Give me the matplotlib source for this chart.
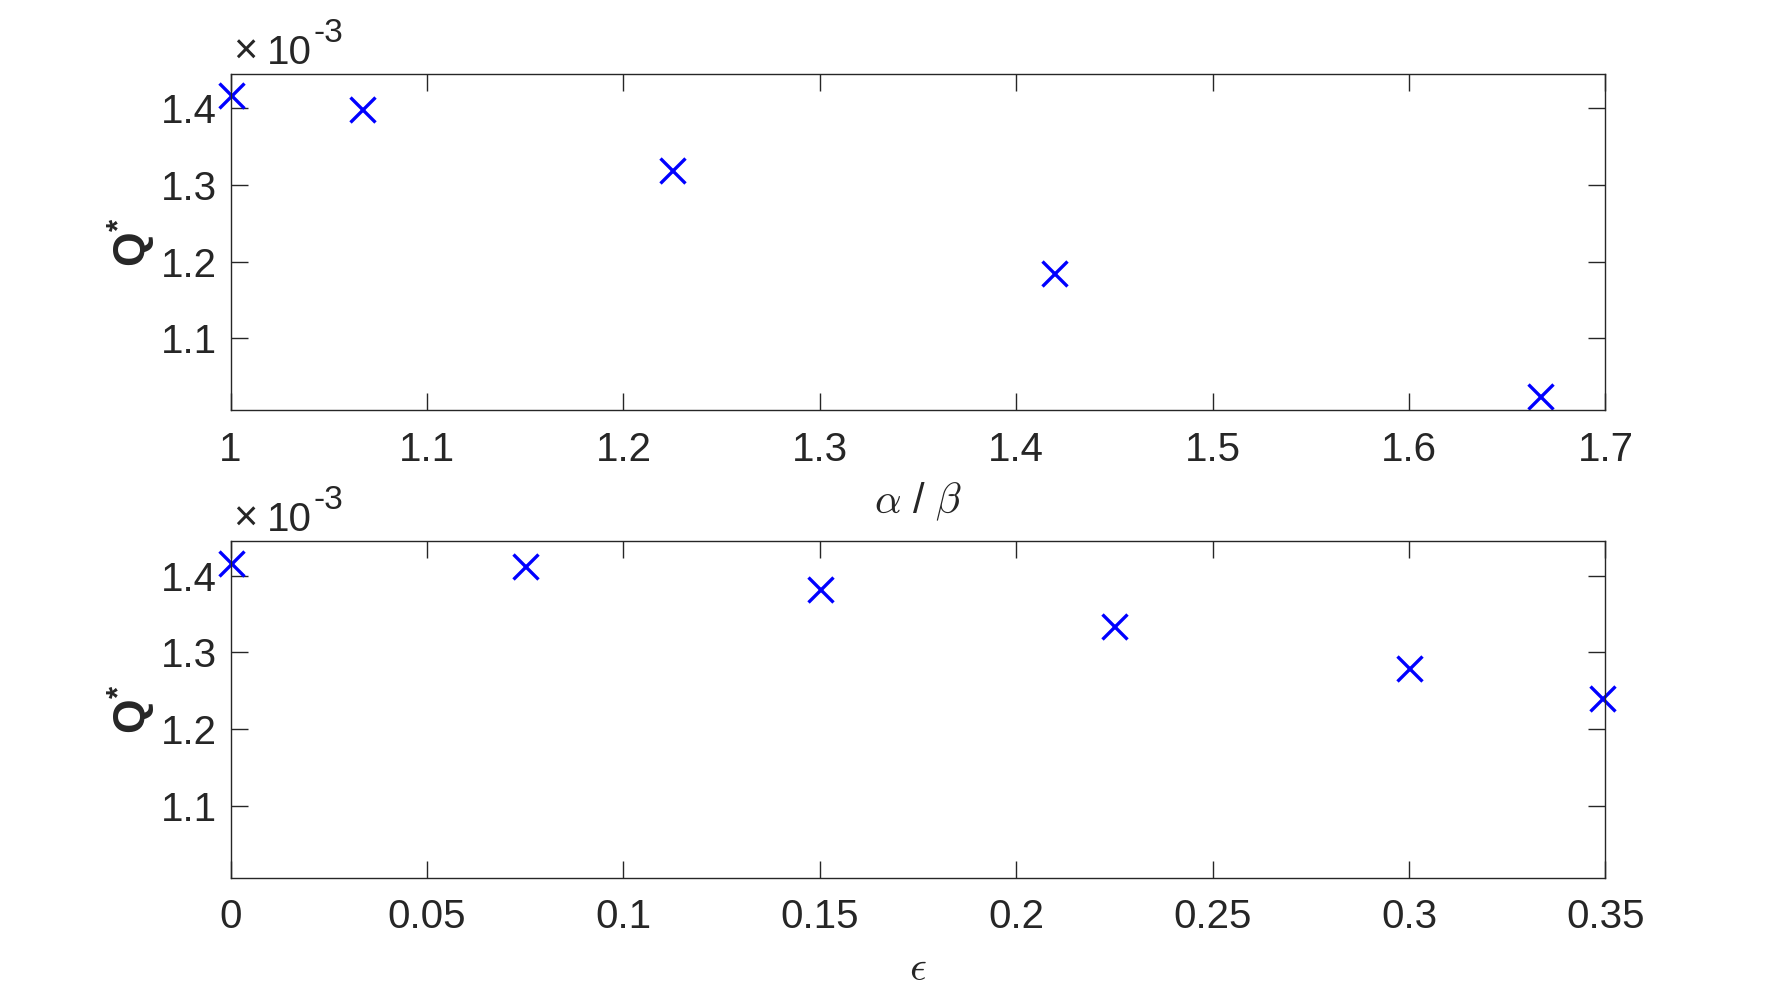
import matplotlib
matplotlib.use('agg')
import matplotlib.pyplot as plt
from matplotlib.ticker import FuncFormatter

# data
ratio = [1.0, 1.0667, 1.2245, 1.4194, 1.6667]
q_ratio = [1.417e-3, 1.399e-3, 1.320e-3, 1.185e-3, 1.025e-3]

eps = [0.0, 0.075, 0.15, 0.225, 0.3, 0.349]
q_eps = [1.416e-3, 1.412e-3, 1.382e-3, 1.334e-3, 1.279e-3, 1.240e-3]

ratio_ticks = [1, 1.1, 1.2, 1.3, 1.4, 1.5, 1.6, 1.7]
eps_ticks = [0, 0.05, 0.1, 0.15, 0.2, 0.25, 0.3, 0.35]
q_ticks = [1.1e-3, 1.2e-3, 1.3e-3, 1.4e-3]

plt.rcParams['font.family'] = ['Liberation Sans', 'DejaVu Sans']
plt.rcParams['mathtext.fontset'] = 'custom'
plt.rcParams['mathtext.rm'] = 'Liberation Sans'
plt.rcParams['mathtext.it'] = 'Liberation Sans:italic'
plt.rcParams['mathtext.bf'] = 'Liberation Sans:bold'

dark = '#262626'
fig = plt.figure(figsize=(17.74, 9.86), dpi=100)
ax1 = fig.add_axes([0.13, 0.5838, 0.775, 0.3412])
ax2 = fig.add_axes([0.13, 0.11, 0.775, 0.3412])


def style(ax, xticks, xlim):
    ax.set_xlim(xlim)
    ax.set_ylim(1.006e-3, 1.445e-3)
    ax.set_xticks(xticks)
    ax.set_yticks(q_ticks)
    ax.xaxis.set_major_formatter(FuncFormatter(lambda v, p: '%g' % round(v, 4)))
    ax.yaxis.set_major_formatter(FuncFormatter(lambda v, p: '%g' % round(v * 1e3, 4)))
    ax.tick_params(direction='in', length=12, width=1.0, colors=dark,
                   labelsize=29, top=True, right=True)
    ax.tick_params(axis='x', pad=15)
    ax.tick_params(axis='y', pad=10)
    for s in ax.spines.values():
        s.set_color(dark)
        s.set_linewidth(1.0)
    ax.text(0.002, 1.03, '×', transform=ax.transAxes, fontsize=30,
            color=dark, ha='left', va='baseline', fontweight='light')
    ax.text(0.0265, 1.03, '10', transform=ax.transAxes,
            fontsize=29, color=dark, ha='left', va='baseline')
    ax.text(0.0605, 1.095, '-3', transform=ax.transAxes,
            fontsize=24, color=dark, ha='left', va='baseline')
    ax.set_ylabel(r'Q$^{\mathbf{*}}$', fontsize=32, fontweight='bold', color=dark)
    ax.yaxis.set_label_coords(-0.053, 0.5)


ax1.plot(ratio, q_ratio, 'x', color='#0000ff', ms=18, mew=2.4, clip_on=False)
style(ax1, ratio_ticks, (1, 1.7))
ax1.set_xlabel(r'$\alpha$ / $\beta$', fontsize=30, color=dark,
               math_fontfamily='cm', va='center')
ax1.xaxis.set_label_coords(0.5, -0.272)

ax2.plot(eps, q_eps, 'x', color='#0000ff', ms=18, mew=2.4, clip_on=False)
style(ax2, eps_ticks, (0, 0.35))
ax2.set_xlabel(r'$\epsilon$', fontsize=30, color=dark,
               math_fontfamily='cm', va='center')
ax2.xaxis.set_label_coords(0.5, -0.272)

plt.savefig('out.png', dpi=100)
